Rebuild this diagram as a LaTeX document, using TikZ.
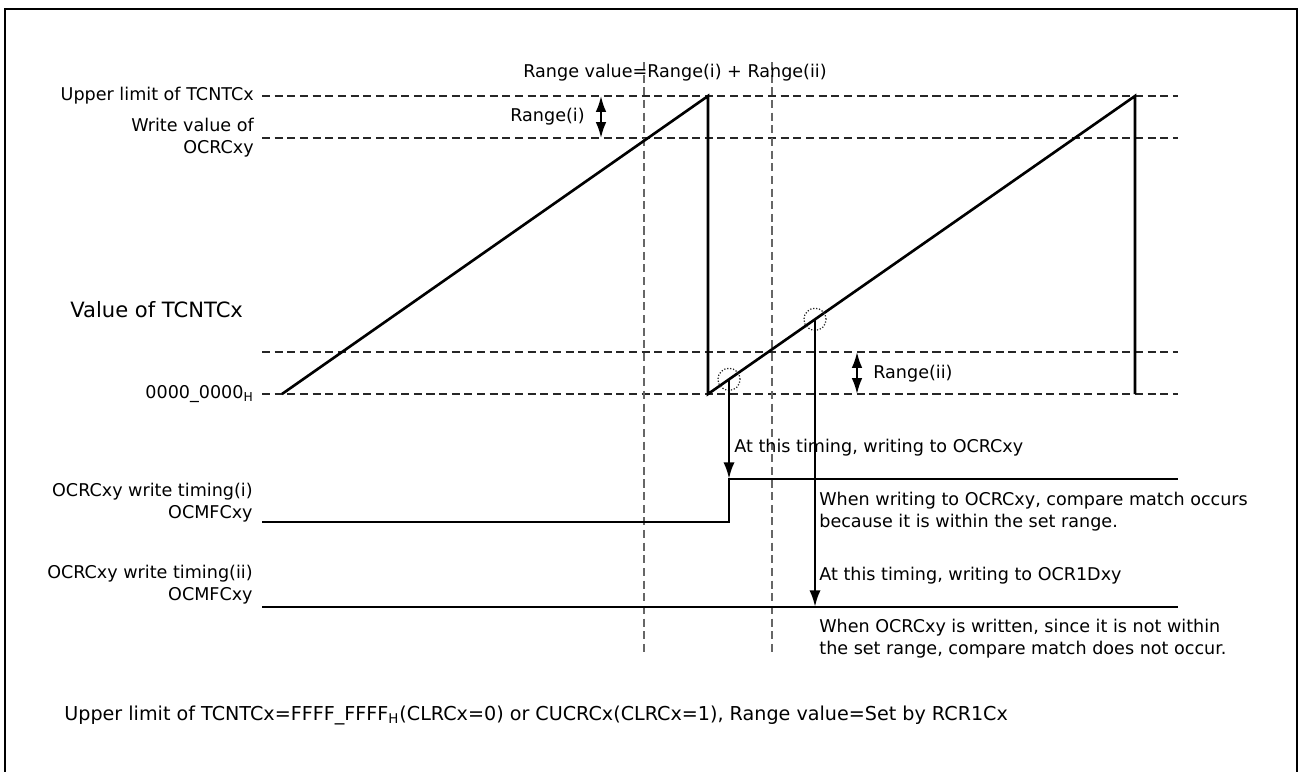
\documentclass[tikz,border=0pt]{standalone}
\usepackage{fontspec}
\setmainfont{DejaVu Sans}
\usetikzlibrary{arrows.meta, positioning, calc}

\begin{document}
\begin{tikzpicture}[x=0.02cm, y=-0.02cm,
  guide/.style={dash pattern=on 4.6pt off 2.6pt, line width=0.7pt, black!85},
  vguide/.style={guide, black!60},
  sig/.style={line width=1.5pt},
  hitring/.style={densely dotted, line width=0.7pt, black!85},
  lbl/.style={inner sep=0pt, font=\fontsize{10}{12.5}\selectfont},
  tip/.style={-{Latex[length=9.5pt,width=6.4pt]}},
  twotip/.style={{Latex[length=9pt,width=6pt]}-{Latex[length=9pt,width=6pt]}, line width=1.1pt}]
\useasboundingbox (0,0) rectangle (1300,771);
% frame
\draw[line width=1.4pt] (5,775) -- (5,9) -- (1297,9) -- (1297,775);

% levels of TCNTCx
\coordinate (up0) at (262,96);  \coordinate (up1) at (1178,96);
\coordinate (wv0) at (262,138); \coordinate (wv1) at (1178,138);
\coordinate (rg0) at (262,352); \coordinate (rg1) at (1178,352);
\coordinate (z0)  at (262,394); \coordinate (z1)  at (1178,394);
\draw[guide] (up0) -- (up1);
\draw[guide] (wv0) -- (wv1);
\draw[guide] (rg0) -- (rg1);
\draw[guide] (z0) -- (z1);

% range window (vertical guides)
\draw[vguide] (644,62) -- (644,652);
\draw[vguide] (772,62) -- (772,652);

% counter sawtooth
\coordinate (s0) at (282,394);
\coordinate (p1) at (708,96);  \coordinate (b1) at (708,394);
\coordinate (p2) at (1135,96); \coordinate (b2) at (1135,394);
\draw[sig] (s0) -- (p1) -- (b1) -- (p2) -- (b2);

% write points
\coordinate (h1) at ($(b1)!21/427!(p2)$);
\coordinate (h2) at ($(b1)!107/427!(p2)$);
\draw[hitring] (h1) circle[radius=6.3pt];
\draw[hitring] (h2) circle[radius=6.3pt];

% OCMFCxy, timing (i) and (ii)
\coordinate (f1a) at (262,522); \coordinate (f1b) at (1178,479);
\coordinate (f2a) at (262,607); \coordinate (f2b) at (1178,607);
\draw[sig] (f1a) -- (f1a -| h1) |- (f1b);
\draw[sig] (f2a) -- (f2b);
\draw[sig, tip] (h1) -- (h1 |- f1b);
\draw[sig, tip] (h2) -- (h2 |- f2a);

% range arrows
\coordinate (ri0) at (601,96);  \coordinate (ri1) at (601,138);
\coordinate (rii0) at (857,352); \coordinate (rii1) at (857,394);
\draw[twotip] (ri0) -- (ri1);
\draw[twotip] (rii0) -- (rii1);

% labels
\node[lbl, left=4.5pt of up0] (lup) {Upper limit of TCNTCx};
\node[lbl, left=4.5pt of wv0, align=right] (lwv) {Write value of\\OCRCxy};
\node[lbl, left=4.5pt of z0] (lzero) {0000\_0000\textsubscript{H}};
\node[inner sep=0pt, anchor=west, font=\fontsize{12}{14}\selectfont] (lval) at (70,310) {Value of TCNTCx};
\node[lbl, anchor=east] (lri) at (585,117) {Range(i)};
\node[lbl, anchor=west] (lrii) at (873,374) {Range(ii)};
\node[lbl] (lsum) at (675,73) {Range value=Range(i) + Range(ii)};

\node[lbl, anchor=east, align=right] (lt1) at (253,503) {OCRCxy write timing(i)\\OCMFCxy};
\node[lbl, anchor=east, align=right] (lt2) at (253,585) {OCRCxy write timing(ii)\\OCMFCxy};

\node[lbl, anchor=west] (n1) at (734,448) {At this timing, writing to OCRCxy};
\node[lbl, anchor=west, align=left] (n2) at (819,512) {When writing to OCRCxy, compare match occurs\\because it is within the set range.};
\node[lbl, anchor=west] (n3) at (819,576) {At this timing, writing to OCR1Dxy};
\node[lbl, anchor=west, align=left] (n4) at (819,639) {When OCRCxy is written, since it is not within\\the set range, compare match does not occur.};

% footnote
\node[inner sep=0pt, anchor=west, font=\fontsize{10.9}{13}\selectfont] (foot) at (64,715) {Upper limit of TCNTCx=FFFF\_FFFF\textsubscript{H}(CLRCx=0) or CUCRCx(CLRCx=1), Range value=Set by RCR1Cx};
\end{tikzpicture}
\end{document}
